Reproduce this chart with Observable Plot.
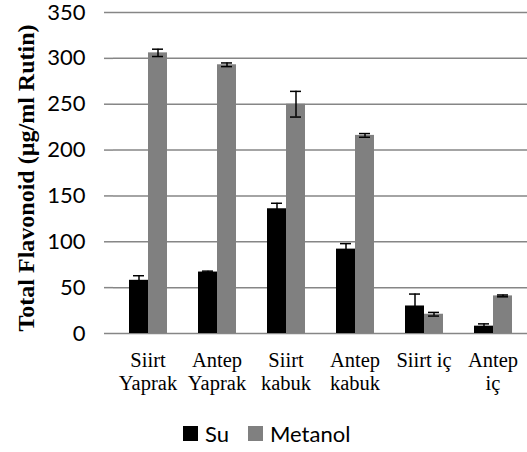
<!DOCTYPE html>
<html>
<head>
<meta charset="utf-8">
<script src="https://cdn.jsdelivr.net/npm/d3@7"></script>
<script src="https://cdn.jsdelivr.net/npm/@observablehq/plot@0.6"></script>
<style>
  html, body { margin: 0; padding: 0; background: #fff; }
  #chart { width: 527px; }
  #legend { margin-top: 17px; }
  .lg-swatches { font-family: Lato, sans-serif !important; font-size: 22px !important; color: #000; margin: 0 0 0 183px !important; }
  .lg-swatch { margin-right: 19px !important; }
  .lg-swatch > svg { margin-right: 7px !important; }
</style>
</head>
<body>
<div id="chart"></div>
<div id="legend"></div>
<script>
const categories = ["Siirt Yaprak", "Antep Yaprak", "Siirt kabuk", "Antep kabuk", "Siirt iç", "Antep iç"];
const categoryLabels = ["Siirt\nYaprak", "Antep\nYaprak", "Siirt\nkabuk", "Antep\nkabuk", "Siirt iç", "Antep\niç"];
const seriesNames = ["Su", "Metanol"];
const seriesColors = ["#000000", "#808080"];
const suValues = [58, 67, 136, 92, 30, 8];
const suErrors = [5, 1, 6, 6, 13, 2.5];
const metanolValues = [306, 293, 250, 216, 21, 41];
const metanolErrors = [4, 2, 14, 2, 2, 1];
const yTicks = [0, 50, 100, 150, 200, 250, 300, 350];
const yTitle = "Total Flavonoid (µg/ml Rutin)";

const data = [];
categories.forEach((c, i) => {
  data.push({category: c, series: "Su", value: suValues[i], err: suErrors[i]});
  data.push({category: c, series: "Metanol", value: metanolValues[i], err: metanolErrors[i]});
});

const gray = "#868686";

const chart = Plot.plot({
  width: 527,
  height: 400,
  marginLeft: 113,
  marginRight: 0,
  marginTop: 12,
  marginBottom: 67,
  fx: {domain: categories, padding: 0, label: null, axis: null},
  x: {domain: seriesNames, paddingInner: 0, paddingOuter: 0.785, axis: null},
  y: {domain: [0, 350], label: null, axis: null},
  color: {domain: seriesNames, range: seriesColors},
  marks: [
    Plot.ruleY(yTicks, {stroke: gray, strokeWidth: 1.5}),
    Plot.barY(data, {fx: "category", x: "series", y: "value", fill: "series"}),
    Plot.ruleX(data, {fx: "category", x: "series", y1: d => d.value - d.err, y2: d => d.value + d.err, stroke: "#000", strokeWidth: 1.5}),
    Plot.tickY(data, {fx: "category", x: "series", y: d => d.value + d.err, stroke: "#000", strokeWidth: 1.5, inset: 4}),
    Plot.tickY(data, {fx: "category", x: "series", y: d => d.value - d.err, stroke: "#000", strokeWidth: 1.5, inset: 4}),
    Plot.axisY({ticks: yTicks, tickSize: 9, tickPadding: 19, stroke: gray, strokeWidth: 1.5, fill: "#000", fontSize: 22, fontFamily: "Lato", label: null, line: true}),
    Plot.axisFx({anchor: "bottom", tickSize: 0, tickPadding: 17, fontSize: 20.5, fontFamily: "Liberation Serif", lineHeight: 1.12, fill: "#000", label: null, tickFormat: d => categoryLabels[categories.indexOf(d)]}),
    Plot.text([yTitle], {fx: [categories[0]], text: d => d, frameAnchor: "left", textAnchor: "middle", rotate: -90, dx: -87, dy: 5, fontSize: 24, fontWeight: "bold", fontFamily: "Liberation Serif", fill: "#000"})
  ]
});
document.getElementById("chart").appendChild(chart);

const legend = Plot.legend({color: {domain: seriesNames, range: seriesColors}, swatchSize: 15, className: "lg"});
document.getElementById("legend").appendChild(legend);
</script>
</body>
</html>
